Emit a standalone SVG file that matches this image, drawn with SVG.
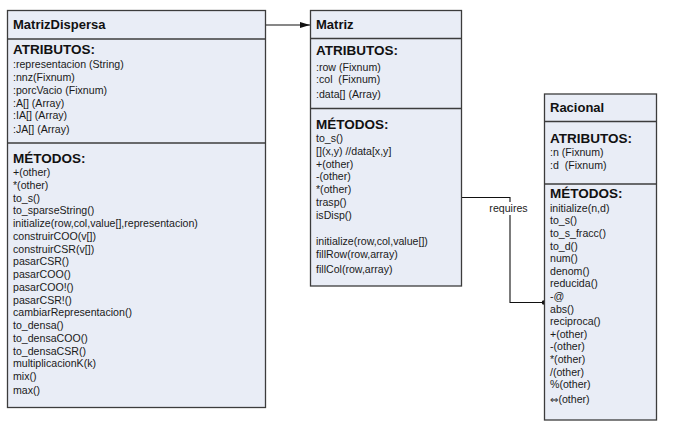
<svg xmlns="http://www.w3.org/2000/svg" width="678" height="440" viewBox="0 0 678 440">
<defs>
<style>
.box{fill:#E9EDF6;stroke:#3C3C3C;stroke-width:1.3}
.sep{stroke:#3C3C3C;stroke-width:1.3;fill:none}
.t{font-family:"Liberation Sans",Arial,sans-serif;font-size:13px;font-weight:bold;fill:#111}
.h{font-family:"Liberation Sans",Arial,sans-serif;font-size:13.5px;font-weight:bold;fill:#111}
.i{font-family:"Liberation Sans",Arial,sans-serif;font-size:10.6px;fill:#1a1a1a;white-space:pre}
.sym{font-family:"DejaVu Sans",sans-serif;font-size:10px}
.c{stroke:#111;stroke-width:1.1;fill:none}
</style>
<marker id="arr" markerWidth="10" markerHeight="6" refX="10" refY="3" orient="auto" markerUnits="userSpaceOnUse">
<path d="M0,0 L10,3 L0,6 Z" fill="#111"/>
</marker>
</defs>
<rect width="678" height="440" fill="#fff"/>

<g id="connectors">
<line class="c" x1="266" y1="25" x2="310" y2="25" marker-end="url(#arr)"/>
<polyline class="c" points="462,197.5 510,197.5 510,302.5 544,302.5"/>
<circle cx="544" cy="302.5" r="2.3" fill="#111"/>
<rect x="488" y="202" width="41" height="13" fill="#fff"/>
<text class="i" x="508.5" y="212" text-anchor="middle">requires</text>
</g>

<g id="MatrizDispersa">
<rect class="box" x="7.5" y="10.5" width="258" height="397"/>
<line class="sep" x1="7.5" y1="39" x2="265.5" y2="39"/>
<line class="sep" x1="7.5" y1="143" x2="265.5" y2="143"/>
<text class="t" x="13" y="29">MatrizDispersa</text>
<text class="h" x="13" y="54">ATRIBUTOS:</text>
<text class="i" x="13" y="68.3">:representacion (String)</text>
<text class="i" x="13" y="81">:nnz(Fixnum)</text>
<text class="i" x="13" y="93.7">:porcVacio (Fixnum)</text>
<text class="i" x="13" y="106.5">:A[] (Array)</text>
<text class="i" x="13" y="119.3">:IA[] (Array)</text>
<text class="i" x="13" y="133.3">:JA[] (Array)</text>
<text class="h" x="13" y="162.7">MÉTODOS:</text>
<text class="i" x="13" y="176">+(other)</text>
<text class="i" x="13" y="188.8">*(other)</text>
<text class="i" x="13" y="201.5">to_s()</text>
<text class="i" x="13" y="214.3">to_sparseString()</text>
<text class="i" x="13" y="227">initialize(row,col,value[],representacion)</text>
<text class="i" x="13" y="239.8">construirCOO(v[])</text>
<text class="i" x="13" y="252.5">construirCSR(v[])</text>
<text class="i" x="13" y="265.3">pasarCSR()</text>
<text class="i" x="13" y="278">pasarCOO()</text>
<text class="i" x="13" y="290.8">pasarCOO!()</text>
<text class="i" x="13" y="303.5">pasarCSR!()</text>
<text class="i" x="13" y="316.3">cambiarRepresentacion()</text>
<text class="i" x="13" y="329">to_densa()</text>
<text class="i" x="13" y="341.8">to_densaCOO()</text>
<text class="i" x="13" y="354.5">to_densaCSR()</text>
<text class="i" x="13" y="367.3">multiplicacionK(k)</text>
<text class="i" x="13" y="380">mix()</text>
<text class="i" x="13" y="394.3">max()</text>
</g>

<g id="Matriz">
<rect class="box" x="310.5" y="10.5" width="151" height="275.5"/>
<line class="sep" x1="310.5" y1="38.5" x2="461.5" y2="38.5"/>
<line class="sep" x1="310.5" y1="108.5" x2="461.5" y2="108.5"/>
<text class="t" x="316" y="28.5">Matriz</text>
<text class="h" x="316" y="55">ATRIBUTOS:</text>
<text class="i" x="316" y="70.7">:row (Fixnum)</text>
<text class="i" x="316" y="83.3">:col  (Fixnum)</text>
<text class="i" x="316" y="97.7">:data[] (Array)</text>
<text class="h" x="316" y="129">MÉTODOS:</text>
<text class="i" x="316" y="142.3">to_s()</text>
<text class="i" x="316" y="155">[](x,y) //data[x,y]</text>
<text class="i" x="316" y="167.7">+(other)</text>
<text class="i" x="316" y="180.4">-(other)</text>
<text class="i" x="316" y="193.1">*(other)</text>
<text class="i" x="316" y="205.8">trasp()</text>
<text class="i" x="316" y="218.5">isDisp()</text>
<text class="i" x="316" y="245">initialize(row,col,value[])</text>
<text class="i" x="316" y="257.7">fillRow(row,array)</text>
<text class="i" x="316" y="272.5">fillCol(row,array)</text>
</g>

<g id="Racional">
<rect class="box" x="544.5" y="94" width="112" height="326"/>
<line class="sep" x1="544.5" y1="121.5" x2="656.5" y2="121.5"/>
<line class="sep" x1="544.5" y1="184" x2="656.5" y2="184"/>
<text class="t" x="550" y="112.3">Racional</text>
<text class="h" x="550" y="142.7">ATRIBUTOS:</text>
<text class="i" x="550" y="156">:n (Fixnum)</text>
<text class="i" x="550" y="169.3">:d  (Fixnum)</text>
<text class="h" x="550" y="198.3">MÉTODOS:</text>
<text class="i" x="550" y="211.7">initialize(n,d)</text>
<text class="i" x="550" y="224.3">to_s()</text>
<text class="i" x="550" y="236.9">to_s_fracc()</text>
<text class="i" x="550" y="249.5">to_d()</text>
<text class="i" x="550" y="262.1">num()</text>
<text class="i" x="550" y="274.7">denom()</text>
<text class="i" x="550" y="287.3">reducida()</text>
<text class="i" x="550" y="299.9">-@</text>
<text class="i" x="550" y="312.5">abs()</text>
<text class="i" x="550" y="325.1">reciproca()</text>
<text class="i" x="550" y="337.7">+(other)</text>
<text class="i" x="550" y="350.3">-(other)</text>
<text class="i" x="550" y="362.9">*(other)</text>
<text class="i" x="550" y="375.5">/(other)</text>
<text class="i" x="550" y="388.1">%(other)</text>
<text class="i" x="550" y="402.5"><tspan class="sym">⇔</tspan>(other)</text>
</g>
</svg>
